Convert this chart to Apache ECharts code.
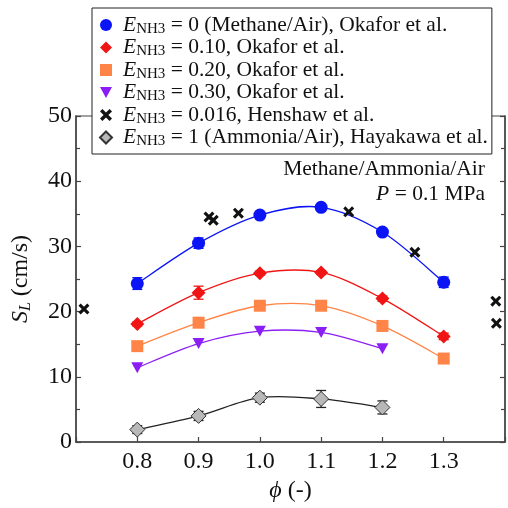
<!DOCTYPE html>
<html>
<head>
<meta charset="utf-8">
<script src="https://cdn.jsdelivr.net/npm/echarts@6/dist/echarts.min.js"></script>
<style>
  html, body { margin: 0; padding: 0; background: #fff; }
  #chart { width: 508px; height: 508px; }
</style>
</head>
<body>
<div id="chart"></div>
<script>
const FONT = 'Liberation Serif';

// equivalence ratio
const phi = [0.8, 0.9, 1.0, 1.1, 1.2, 1.3];
const xTicks = [0.8, 0.9, 1.0, 1.1, 1.2, 1.3];

// Okafor et al.
const sl0 = [24.3, 30.5, 34.8, 36.0, 32.2, 24.5];
const err0 = [0.9, 0.8, 0.3, 0.3, 0.4, 0.8];
const sl10 = [18.1, 22.9, 25.9, 26.0, 22.0, 16.2];
const err10 = [0.3, 1.0, 0.3, 0.3, 0.4, 0.5];
const sl20 = [14.7, 18.3, 20.9, 20.9, 17.8, 12.8];
const sl30 = [11.4, 15.1, 17.0, 16.8, 14.3];

// Henshaw et al.
const henPhi = [0.713, 0.917, 0.924, 0.965, 1.145, 1.253, 1.385, 1.386];
const henSL = [20.4, 34.5, 34.0, 35.1, 35.3, 29.1, 21.6, 18.2];

// Hayakawa et al. (ammonia/air)
const slNH3 = [1.9, 4.0, 6.8, 6.6, 5.3];
const errNH3 = [0.6, 0.7, 0.7, 1.3, 1.0];

const legendText = {
  s0: '0 (Methane/Air), Okafor et al.',
  s10: '0.10, Okafor et al.',
  s20: '0.20, Okafor et al.',
  s30: '0.30, Okafor et al.',
  hen: '0.016, Henshaw et al.',
  nh3: '1 (Ammonia/Air), Hayakawa et al.'
};

const BLUE = '#0a14f5', RED = '#f01414', ORANGE = '#ff8447', PURPLE = '#8a1ef5', GRAY = '#b8b8b8';
const triDown = 'path://M0,0 L10,0 L5,9 Z';
const cross = 'path://M0,2 L2,0 L5,3 L8,0 L10,2 L7,5 L10,8 L8,10 L5,7 L2,10 L0,8 L3,5 Z';

const pts = (xs, ys) => ys.map((y, i) => [xs[i], y]);
const errPts = (xs, ys, es) => ys.map((y, i) => [xs[i], y, es[i]]);

function errBars(color) {
  return function (params, api) {
    const x = api.value(0), y = api.value(1), e = api.value(2);
    const hi = api.coord([x, y + e]);
    const lo = api.coord([x, y - e]);
    const w = 5;
    const st = { stroke: color, lineWidth: 1.3 };
    return {
      type: 'group',
      children: [
        { type: 'line', shape: { x1: hi[0], y1: hi[1], x2: lo[0], y2: lo[1] }, style: st },
        { type: 'line', shape: { x1: hi[0] - w, y1: hi[1], x2: hi[0] + w, y2: hi[1] }, style: st },
        { type: 'line', shape: { x1: lo[0] - w, y1: lo[1], x2: lo[0] + w, y2: lo[1] }, style: st }
      ]
    };
  };
}

// smooth fitted curve through the points (catmull-rom segments)
function curve(ys, color) {
  const data = pts(phi, ys);
  return {
    type: 'custom', data: data, z: 1, silent: true,
    renderItem: function (params, api) {
      const i = params.dataIndex;
      if (i >= data.length - 1) return { type: 'group', children: [] };
      const P = k => api.coord(data[Math.max(0, Math.min(data.length - 1, k))]);
      const p0 = P(i - 1), p1 = P(i), p2 = P(i + 1), p3 = P(i + 2);
      return {
        type: 'bezierCurve',
        shape: {
          x1: p1[0], y1: p1[1], x2: p2[0], y2: p2[1],
          cpx1: p1[0] + (p2[0] - p0[0]) / 6, cpy1: p1[1] + (p2[1] - p0[1]) / 6,
          cpx2: p2[0] - (p3[0] - p1[0]) / 6, cpy2: p2[1] - (p3[1] - p1[1]) / 6
        },
        style: { stroke: color, lineWidth: 1.3, fill: 'none' }
      };
    }
  };
}

const chart = echarts.init(document.getElementById('chart'));

const yAxisBase = {
  type: 'value', min: 0, max: 50, interval: 10,
  splitLine: { show: false },
  axisLine: { show: true, lineStyle: { color: '#444', width: 1.5 } },
  axisTick: { show: true, inside: true, length: 5, lineStyle: { color: '#444', width: 1.2 } },
  minorTick: { show: true, splitNumber: 2, length: 4, lineStyle: { color: '#444', width: 1.2 } }
};

chart.setOption({
  animation: false,
  backgroundColor: '#fff',
  grid: { left: 76, right: 1, top: 116, bottom: 66, show: true, borderColor: '#444', borderWidth: 1.2 },
  legend: {
    orient: 'vertical', left: 92, top: 8,
    padding: [6, 4, 5, 7], itemWidth: 12, itemHeight: 12, itemGap: 0,
    backgroundColor: '#fff', borderColor: '#222', borderWidth: 1,
    data: [
      { name: 's0', icon: 'circle' },
      { name: 's10', icon: 'diamond' },
      { name: 's20', icon: 'rect' },
      { name: 's30', icon: triDown },
      { name: 'hen', icon: cross },
      { name: 'nh3', icon: 'diamond' }
    ],
    formatter: name => '{e|E}{s|NH3}{t| = ' + legendText[name] + '}',
    textStyle: {
      color: '#111', fontFamily: FONT, fontSize: 21.5,
      rich: {
        e: { fontFamily: FONT, fontStyle: 'italic', fontSize: 21.5, lineHeight: 23, color: '#111', padding: [0, 0, 0, 6] },
        s: { fontFamily: FONT, fontSize: 15, lineHeight: 8, verticalAlign: 'bottom', color: '#111' },
        t: { fontFamily: FONT, fontSize: 21.5, lineHeight: 23, color: '#111' }
      }
    }
  },
  xAxis: {
    type: 'value', min: 0.7, max: 1.4, interval: 0.1,
    splitLine: { show: false },
    axisLine: { show: true, onZero: false, lineStyle: { color: '#444', width: 1.5 } },
    axisTick: { show: true, inside: true, length: 5, lineStyle: { color: '#444', width: 1.2 } },
    axisLabel: {
      color: '#111', fontFamily: FONT, fontSize: 24, margin: 8,
      formatter: v => {
        const t = xTicks.find(k => Math.abs(k - v) < 1e-6);
        return t === undefined ? '' : t.toFixed(1);
      }
    },
    name: '{p|ϕ} (-)', nameLocation: 'middle', nameGap: 37,
    nameTextStyle: {
      color: '#111', fontFamily: FONT, fontSize: 24,
      rich: {
        p: { fontFamily: FONT, fontStyle: 'italic', fontSize: 24, color: '#111' },
      }
    }
  },
  yAxis: [
    Object.assign({}, yAxisBase, {
      axisLabel: { color: '#111', fontFamily: FONT, fontSize: 24, margin: 4 },
      name: '{i|S}{l|L}{t| (cm/s)}', nameLocation: 'middle', nameGap: 42, nameRotate: 90,
      nameTextStyle: {
        color: '#111', fontFamily: FONT, fontSize: 24,
        rich: {
          i: { fontFamily: FONT, fontStyle: 'italic', fontSize: 24, lineHeight: 26, color: '#111' },
          l: { fontFamily: FONT, fontStyle: 'italic', fontSize: 16, lineHeight: 10, verticalAlign: 'bottom', color: '#111' },
          t: { fontFamily: FONT, fontSize: 24, lineHeight: 26, color: '#111' }
        }
      }
    }),
    Object.assign({}, yAxisBase, { position: 'right', axisLabel: { show: false } })
  ],
  graphic: [
    { type: 'text', right: 23, top: 158, style: { text: 'Methane/Ammonia/Air', fontFamily: FONT, fontSize: 21.5, fill: '#111' } },
    {
      type: 'text', right: 23, top: 183,
      style: {
        text: '{i|P} = 0.1 MPa', fontFamily: FONT, fontSize: 21.5, fill: '#111',
        rich: { i: { fontFamily: FONT, fontStyle: 'italic', fontSize: 21.5 } }
      }
    }
  ],
  series: [
    curve(sl0, BLUE),
    curve(sl10, RED),
    curve(sl20, ORANGE),
    curve(sl30, PURPLE),
    curve(slNH3, '#222'),
    { name: 'e0', type: 'custom', renderItem: errBars(BLUE), data: errPts(phi, sl0, err0), z: 2, silent: true },
    { name: 'e10', type: 'custom', renderItem: errBars(RED), data: errPts(phi, sl10, err10), z: 2, silent: true },
    { name: 'eNH3', type: 'custom', renderItem: errBars('#222'), data: errPts(phi, slNH3, errNH3), z: 2, silent: true },
    { name: 's0', type: 'scatter', data: pts(phi, sl0), symbol: 'circle', symbolSize: 13, itemStyle: { color: BLUE, opacity: 1 }, z: 3 },
    { name: 's10', type: 'scatter', data: pts(phi, sl10), symbol: 'diamond', symbolSize: 14, itemStyle: { color: RED, opacity: 1 }, z: 3 },
    { name: 's20', type: 'scatter', data: pts(phi, sl20), symbol: 'rect', symbolSize: 12, itemStyle: { color: ORANGE, opacity: 1 }, z: 3 },
    { name: 's30', type: 'scatter', data: pts(phi, sl30), symbol: triDown, symbolSize: [12, 11], itemStyle: { color: PURPLE, opacity: 1 }, z: 3 },
    { name: 'hen', type: 'scatter', data: pts(henPhi, henSL), symbol: cross, symbolSize: 11, itemStyle: { color: '#111', opacity: 1 }, z: 3 },
    { name: 'nh3', type: 'scatter', data: pts(phi, slNH3), symbol: 'diamond', symbolSize: 15, itemStyle: { color: GRAY, borderColor: '#333', borderWidth: 1, opacity: 1 }, z: 3 }
  ]
});
</script>
</body>
</html>
